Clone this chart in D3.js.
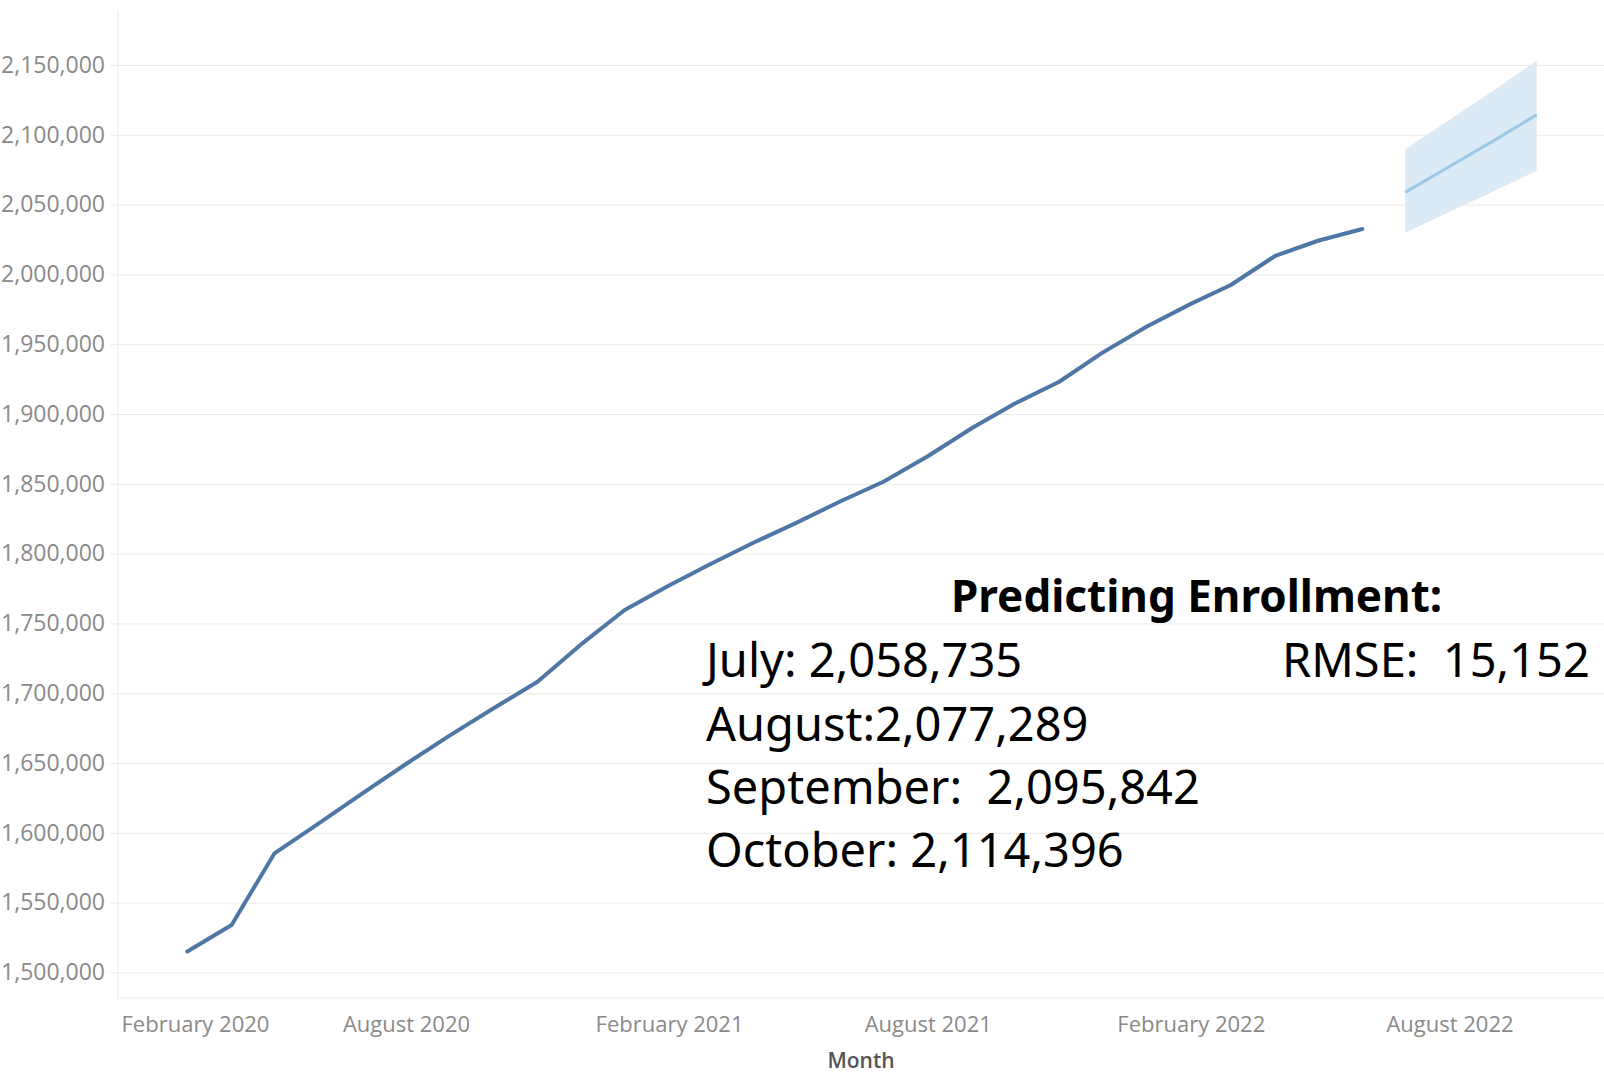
<!DOCTYPE html>
<html><head><meta charset="utf-8">
<script src="https://cdn.jsdelivr.net/npm/d3@7"></script>
<style>
html,body{margin:0;padding:0;background:#fff;}
svg{display:block;}
</style></head><body>
<svg id="chart" width="1604" height="1074"></svg>
<script>
// ---- data ----
const months = ["2020-03","2020-04","2020-05","2020-06","2020-07","2020-08","2020-09","2020-10","2020-11","2020-12",
  "2021-01","2021-02","2021-03","2021-04","2021-05","2021-06","2021-07","2021-08","2021-09","2021-10","2021-11","2021-12",
  "2022-01","2022-02","2022-03","2022-04","2022-05","2022-06"];
const enrollment = [1515000,1534000,1585300,1606800,1627900,1649300,1670000,1689000,1708200,1734600,
  1759600,1777200,1792000,1807800,1822000,1837500,1851500,1869700,1890000,1907500,1923100,1943800,
  1962500,1978900,1992400,2013200,2024100,2032500];
const forecastMonths = ["2022-07","2022-08","2022-09","2022-10"];
const forecast = [2058735,2077289,2095842,2114396];
const forecastUpper = [2089600,2110800,2131900,2153100];
const forecastLower = [2029900,2044700,2059500,2074300];
const yTickValues = [1500000,1550000,1600000,1650000,1700000,1750000,1800000,1850000,1900000,1950000,2000000,2050000,2100000,2150000];
const xTickDates = ["2020-02","2020-08","2021-02","2021-08","2022-02","2022-08"];
const xTickLabels = ["February 2020","August 2020","February 2021","August 2021","February 2022","August 2022"];
const xTitle = "Month";
const annotationTitle = "Predicting Enrollment:";
const annotationLines = ["July: 2,058,735","August:2,077,289","September:  2,095,842","October: 2,114,396"];
const rmseLabel = "RMSE:  15,152";

// ---- layout ----
const parse = d3.utcParse("%Y-%m");
const svg = d3.select("#chart");
const W = 1604, plotLeft = 118, plotTop = 10, plotBottom = 998;

const x = d3.scaleUtc().domain([parse("2020-03"), parse("2022-10")]).range([187.3, 1536.7]);
const y = d3.scaleLinear().domain([1500000, 2150000]).range([972.4, 65]);

const tickFont = "'Open Sans', 'Noto Sans', sans-serif";

// y axis + gridlines
const yAxis = svg.append("g").attr("transform", `translate(${plotLeft},0)`)
  .call(d3.axisLeft(y).tickValues(yTickValues).tickFormat(d3.format(","))
    .tickSize(-(W - plotLeft)).tickSizeOuter(0).tickPadding(13));
yAxis.select(".domain").remove();
yAxis.selectAll(".tick line").attr("stroke", "#ebebeb").attr("stroke-width", 1).attr("x1", -8);
yAxis.selectAll(".tick text").attr("fill", "#8a8a8a").style("font-family", tickFont).style("font-size", "23px");

// plot borders
svg.append("line").attr("x1", plotLeft).attr("x2", plotLeft).attr("y1", plotTop).attr("y2", plotBottom)
  .attr("stroke", "#ececec").attr("stroke-width", 1);
svg.append("line").attr("x1", plotLeft).attr("x2", W).attr("y1", plotBottom).attr("y2", plotBottom)
  .attr("stroke", "#ececec").attr("stroke-width", 1);

// x axis
const xAxis = svg.append("g").attr("transform", `translate(0,${plotBottom})`)
  .call(d3.axisBottom(x).tickValues(xTickDates.map(parse)).tickFormat((d, i) => xTickLabels[i])
    .tickSize(0).tickPadding(18));
xAxis.select(".domain").remove();
xAxis.selectAll(".tick text").attr("fill", "#8a8a8a").style("font-family", tickFont).style("font-size", "22px");
// keep labels inside the plot on the left (Tableau behaviour)
xAxis.selectAll(".tick").each(function(d) {
  const t = d3.select(this).select("text");
  const w = t.node().getComputedTextLength();
  const cx = x(d);
  if (cx - w / 2 < plotLeft + 3) {
    t.attr("text-anchor", "start").attr("x", plotLeft + 3 - cx);
  }
});

svg.append("text").attr("x", 861).attr("y", 1068).attr("text-anchor", "middle")
  .style("font-family", tickFont).style("font-size", "21px").style("font-weight", 600)
  .attr("fill", "#555").text(xTitle);

// forecast band
const fIdx = d3.range(forecastMonths.length);
svg.append("path").datum(fIdx)
  .attr("d", d3.area().x(i => x(parse(forecastMonths[i]))).y0(i => y(forecastLower[i])).y1(i => y(forecastUpper[i])))
  .attr("fill", "#dceaf6").attr("stroke", "none");

// forecast line
svg.append("path").datum(fIdx)
  .attr("d", d3.line().x(i => x(parse(forecastMonths[i]))).y(i => y(forecast[i])))
  .attr("fill", "none").attr("stroke", "#9cc8e3").attr("stroke-width", 3);

// actual line
svg.append("path").datum(d3.range(months.length))
  .attr("d", d3.line().x(i => x(parse(months[i]))).y(i => y(enrollment[i])))
  .attr("fill", "none").attr("stroke", "#4e77a5").attr("stroke-width", 4)
  .attr("stroke-linejoin", "round").attr("stroke-linecap", "round");

// annotation
const annFont = "'Noto Sans', 'Open Sans', sans-serif";
svg.append("text").attr("x", 951).attr("y", 612)
  .style("font-family", annFont).style("font-size", "44px").style("font-weight", 700)
  .attr("fill", "#000").text(annotationTitle);
const lineY = [677, 741, 804, 867];
annotationLines.forEach((s, i) => {
  svg.append("text").attr("x", 706).attr("y", lineY[i])
    .style("font-family", annFont).style("font-size", "47px").style("white-space", "pre")
    .attr("fill", "#000").text(s);
});
svg.append("text").attr("x", 1282).attr("y", 677)
  .style("font-family", annFont).style("font-size", "47px").style("white-space", "pre")
  .attr("fill", "#000").text(rmseLabel);
</script>
</body></html>
